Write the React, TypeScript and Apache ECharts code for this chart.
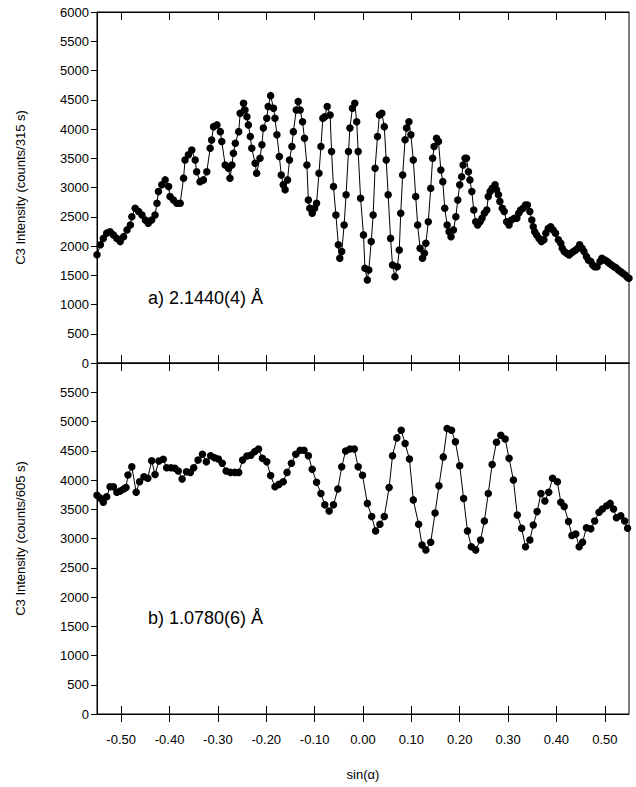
import React, { useEffect, useRef } from "react";
import * as echarts from "echarts";

// Panel a) data: sin(alpha) and C3 intensity (counts/315 s)
const sinA_a = [
  -0.55, -0.543, -0.537, -0.53, -0.523, -0.516, -0.509, -0.502, -0.495, -0.488, -0.481, -0.478, -0.471, -0.464, -0.457,
  -0.45, -0.444, -0.437, -0.43, -0.426, -0.423, -0.416, -0.409, -0.402, -0.399, -0.392, -0.385, -0.378, -0.371, -0.368,
  -0.361, -0.354, -0.347, -0.344, -0.337, -0.33, -0.323, -0.316, -0.313, -0.309, -0.302, -0.295, -0.292, -0.285, -0.278,
  -0.275, -0.271, -0.268, -0.264, -0.257, -0.254, -0.247, -0.244, -0.24, -0.237, -0.233, -0.23, -0.223, -0.22, -0.213,
  -0.209, -0.206, -0.199, -0.196, -0.191, -0.185, -0.182, -0.178, -0.173, -0.169, -0.165, -0.161, -0.156, -0.152, -0.147,
  -0.144, -0.138, -0.134, -0.13, -0.125, -0.121, -0.116, -0.113, -0.11, -0.105, -0.1, -0.096, -0.091, -0.087, -0.083,
  -0.079, -0.074, -0.068, -0.065, -0.061, -0.056, -0.051, -0.048, -0.044, -0.039, -0.035, -0.03, -0.027, -0.022, -0.017,
  -0.013, -0.01, -0.005, 0.001, 0.004, 0.009, 0.012, 0.017, 0.021, 0.025, 0.03, 0.034, 0.039, 0.044, 0.048,
  0.052, 0.057, 0.061, 0.066, 0.071, 0.075, 0.078, 0.082, 0.087, 0.09, 0.095, 0.099, 0.104, 0.109, 0.113,
  0.118, 0.123, 0.127, 0.13, 0.135, 0.14, 0.144, 0.147, 0.152, 0.156, 0.161, 0.165, 0.169, 0.174, 0.178,
  0.182, 0.187, 0.192, 0.196, 0.2, 0.204, 0.207, 0.211, 0.214, 0.218, 0.221, 0.225, 0.229, 0.233, 0.237,
  0.242, 0.246, 0.251, 0.256, 0.259, 0.263, 0.267, 0.273, 0.276, 0.28, 0.283, 0.288, 0.292, 0.297, 0.302,
  0.307, 0.313, 0.318, 0.322, 0.326, 0.331, 0.336, 0.34, 0.345, 0.349, 0.352, 0.355, 0.359, 0.364, 0.369,
  0.374, 0.378, 0.383, 0.388, 0.393, 0.398, 0.404, 0.409, 0.412, 0.416, 0.421, 0.426, 0.43, 0.435, 0.44,
  0.444, 0.448, 0.453, 0.457, 0.462, 0.466, 0.471, 0.475, 0.479, 0.484, 0.49, 0.494, 0.5, 0.505, 0.509,
  0.514, 0.519, 0.523, 0.528, 0.533, 0.537, 0.542, 0.547, 0.55,
];
const counts_a = [
  1850, 2020, 2130, 2220, 2245, 2190, 2130, 2075, 2160, 2275, 2360, 2500, 2645, 2590, 2530,
  2445, 2390, 2445, 2530, 2730, 2930, 3045, 3130, 3015, 2845, 2785, 2730, 2730, 3160, 3470,
  3560, 3640, 3470, 3270, 3100, 3130, 3270, 3670, 3810, 4040, 4070, 3955, 3785, 3385, 3330,
  3160, 3385, 3585, 3755, 3955, 4270, 4440, 4325, 4210, 4070, 3870, 3670, 3415, 3245, 3500,
  3730, 4015, 4185, 4385, 4570, 4355, 4185, 3900, 3530, 3215, 3045, 2960, 3130, 3470, 3700,
  3955, 4325, 4470, 4325, 4125, 3840, 3385, 2785, 2645, 2560, 2645, 2730, 3245, 3700, 4185,
  4210, 4385, 4240, 3615, 3015, 2530, 2020, 1790, 1905, 2360, 2875, 3615, 4015, 4355, 4440,
  4125, 3615, 2815, 2190, 1620, 1420, 1590, 2075, 2530, 3330, 3870, 4240, 4270, 4040, 3470,
  2875, 2130, 1675, 1475, 1645, 1930, 2560, 3215, 3815, 4015, 4125, 3900, 3470, 2845, 2360,
  1960, 1790, 1875, 2045, 2415, 2985, 3500, 3700, 3840, 3785, 3300, 3100, 2645, 2360, 2245,
  2160, 2275, 2500, 2785, 3045, 3185, 3385, 3500, 3500, 3270, 3130, 2930, 2615, 2415, 2360,
  2415, 2475, 2560, 2615, 2845, 2930, 2985, 3045, 2960, 2875, 2760, 2645, 2590, 2415, 2360,
  2445, 2475, 2475, 2560, 2615, 2645, 2700, 2700, 2590, 2445, 2330, 2245, 2190, 2130, 2075,
  2105, 2220, 2300, 2330, 2275, 2220, 2105, 2045, 1960, 1905, 1875, 1845, 1875, 1905, 1930,
  1960, 2020, 1960, 1905, 1820, 1760, 1735, 1675, 1645, 1645, 1735, 1790, 1760, 1735, 1705,
  1675, 1645, 1630, 1590, 1560, 1535, 1505, 1460, 1450,
];

// Panel b) data: sin(alpha) and C3 intensity (counts/605 s)
const sinA_b = [
  -0.55, -0.543, -0.537, -0.53, -0.523, -0.516, -0.509, -0.502, -0.495, -0.49, -0.486, -0.478, -0.469, -0.462, -0.453,
  -0.445, -0.437, -0.43, -0.422, -0.413, -0.406, -0.397, -0.389, -0.382, -0.374, -0.365, -0.357, -0.35, -0.341, -0.332,
  -0.324, -0.315, -0.307, -0.299, -0.291, -0.283, -0.274, -0.265, -0.257, -0.249, -0.24, -0.232, -0.224, -0.216, -0.208,
  -0.199, -0.191, -0.182, -0.174, -0.165, -0.157, -0.148, -0.139, -0.13, -0.122, -0.113, -0.105, -0.096, -0.087, -0.079,
  -0.07, -0.061, -0.052, -0.044, -0.036, -0.027, -0.018, -0.01, -0.001, 0.009, 0.018, 0.026, 0.035, 0.044, 0.054,
  0.061, 0.07, 0.079, 0.087, 0.096, 0.104, 0.115, 0.122, 0.13, 0.14, 0.149, 0.157, 0.166, 0.174, 0.183,
  0.191, 0.2, 0.208, 0.216, 0.224, 0.233, 0.243, 0.251, 0.259, 0.267, 0.276, 0.285, 0.294, 0.302, 0.311,
  0.319, 0.328, 0.336, 0.345, 0.352, 0.36, 0.368, 0.376, 0.384, 0.392, 0.402, 0.409, 0.416, 0.425, 0.432,
  0.44, 0.447, 0.454, 0.462, 0.471, 0.479, 0.488, 0.495, 0.504, 0.511, 0.518, 0.524, 0.533, 0.541, 0.547,
];
const counts_b = [
  3740, 3690, 3620, 3715, 3885, 3885, 3790, 3810, 3845, 3870, 4085, 4225, 3790, 3970, 4055,
  4030, 4330, 4095, 4325, 4355, 4210, 4210, 4200, 4155, 4015, 4140, 4130, 4210, 4340, 4440,
  4310, 4415, 4380, 4360, 4285, 4155, 4130, 4130, 4130, 4340, 4410, 4425, 4485, 4530, 4370,
  4310, 4075, 3885, 3925, 3970, 4130, 4285, 4440, 4510, 4510, 4415, 4185, 3960, 3770, 3575,
  3470, 3575, 3845, 4225, 4495, 4530, 4530, 4225, 4080, 3600, 3375, 3130, 3245, 3375, 3870,
  4415, 4720, 4850, 4625, 4360, 3660, 3245, 2890, 2805, 2935, 3435, 3900, 4395, 4880, 4850,
  4655, 4245, 3685, 3130, 2860, 2805, 2975, 3300, 3770, 4265, 4645, 4765, 4700, 4370, 4000,
  3400, 3175, 2860, 2975, 3230, 3460, 3770, 3640, 3790, 4030, 3970, 3620, 3545, 3290, 3050,
  3075, 2860, 2935, 3185, 3165, 3300, 3450, 3505, 3560, 3600, 3505, 3355, 3390, 3300, 3175,
];

const xTickValues = [-0.5, -0.4, -0.3, -0.2, -0.1, 0, 0.1, 0.2, 0.3, 0.4, 0.5];
const panelLabels = ["a) 2.1440(4) Å", "b) 1.0780(6) Å"];
const yTitles = ["C3 Intensity (counts/315 s)", "C3 Intensity (counts/605 s)"];
const xTitle = "sin(α)";

const FONT = "'Liberation Sans', Arial, Helvetica, sans-serif";

export default function App() {
  const ref = useRef<HTMLDivElement>(null);
  useEffect(() => {
    const chart = echarts.init(ref.current!, null, { renderer: "svg" });
    const L = 97, W = 532;
    const black = "#000";
    const xBase = (gridIndex: number, position: string, extra: any = {}) => ({
      type: "value",
      gridIndex,
      position,
      min: -0.55,
      max: 0.55,
      axisLine: { show: true, onZero: false, lineStyle: { color: black, width: 1 } },
      axisTick: { show: true, inside: true, length: 8, customValues: xTickValues, lineStyle: { color: black, width: 1 } },
      axisLabel: { show: false },
      splitLine: { show: false },
      ...extra,
    });
    const yBase = (gridIndex: number, name: string, hideTop: boolean) => ({
      type: "value",
      gridIndex,
      min: 0,
      max: 6000,
      interval: 500,
      name,
      nameLocation: "middle",
      nameGap: 70,
      nameTextStyle: { fontFamily: FONT, fontSize: 13, color: black },
      axisLine: { show: true, onZero: false, lineStyle: { color: black, width: 1 } },
      axisTick: { show: true, inside: false, length: 6, lineStyle: { color: black, width: 1 } },
      axisLabel: {
        show: true,
        margin: 8,
        fontFamily: FONT,
        fontSize: 13,
        color: black,
        showMinLabel: true,
        showMaxLabel: !hideTop,
        formatter: (v: number) => (hideTop && v === 6000 ? "" : String(v)),
      },
      splitLine: { show: false },
    });
    const seriesBase = (xs: number[], ys: number[], xAxisIndex: number, yAxisIndex: number) => ({
      type: "line",
      xAxisIndex,
      yAxisIndex,
      data: xs.map((x, i) => [x, ys[i]]),
      symbol: "circle",
      symbolSize: 7.5,
      clip: false,
      lineStyle: { color: black, width: 1 },
      itemStyle: { color: black },
      emphasis: { disabled: true },
    });
    chart.setOption({
      animation: false,
      backgroundColor: "#fff",
      grid: [
        { left: L, top: 12, width: W, height: 351, show: true, borderColor: black, borderWidth: 1, backgroundColor: "transparent" },
        { left: L, top: 363, width: W, height: 351, show: true, borderColor: black, borderWidth: 1, backgroundColor: "transparent" },
        { left: L, top: 714, width: W, height: 10 },
      ],
      xAxis: [
        xBase(0, "bottom"),
        xBase(0, "top"),
        xBase(1, "bottom", {
          axisLabel: {
            show: true,
            customValues: xTickValues,
            margin: 19,
            fontFamily: FONT,
            fontSize: 13,
            color: black,
            formatter: (v: number) => v.toFixed(2),
          },
          name: xTitle,
          nameLocation: "middle",
          nameGap: 54,
          nameTextStyle: { fontFamily: FONT, fontSize: 13, color: black },
        }),
        xBase(1, "top"),
        xBase(2, "top", { axisLine: { show: false, onZero: false } }),
      ],
      yAxis: [
        yBase(0, yTitles[0], false),
        yBase(1, yTitles[1], true),
        { type: "value", gridIndex: 2, min: 0, max: 1, show: false },
      ],
      series: [seriesBase(sinA_a, counts_a, 0, 0), seriesBase(sinA_b, counts_b, 2, 1)],
      graphic: [
        {
          type: "text",
          x: 148,
          y: 298,
          style: { text: panelLabels[0], fontFamily: FONT, fontSize: 18, fill: black, verticalAlign: "middle" },
        },
        {
          type: "text",
          x: 148,
          y: 618,
          style: { text: panelLabels[1], fontFamily: FONT, fontSize: 18, fill: black, verticalAlign: "middle" },
        },
      ],
    });
    return () => chart.dispose();
  }, []);
  return (
    <div
      ref={ref}
      style={{ position: "absolute", left: 0, top: 0, width: 636, height: 787, background: "#fff" }}
    />
  );
}
